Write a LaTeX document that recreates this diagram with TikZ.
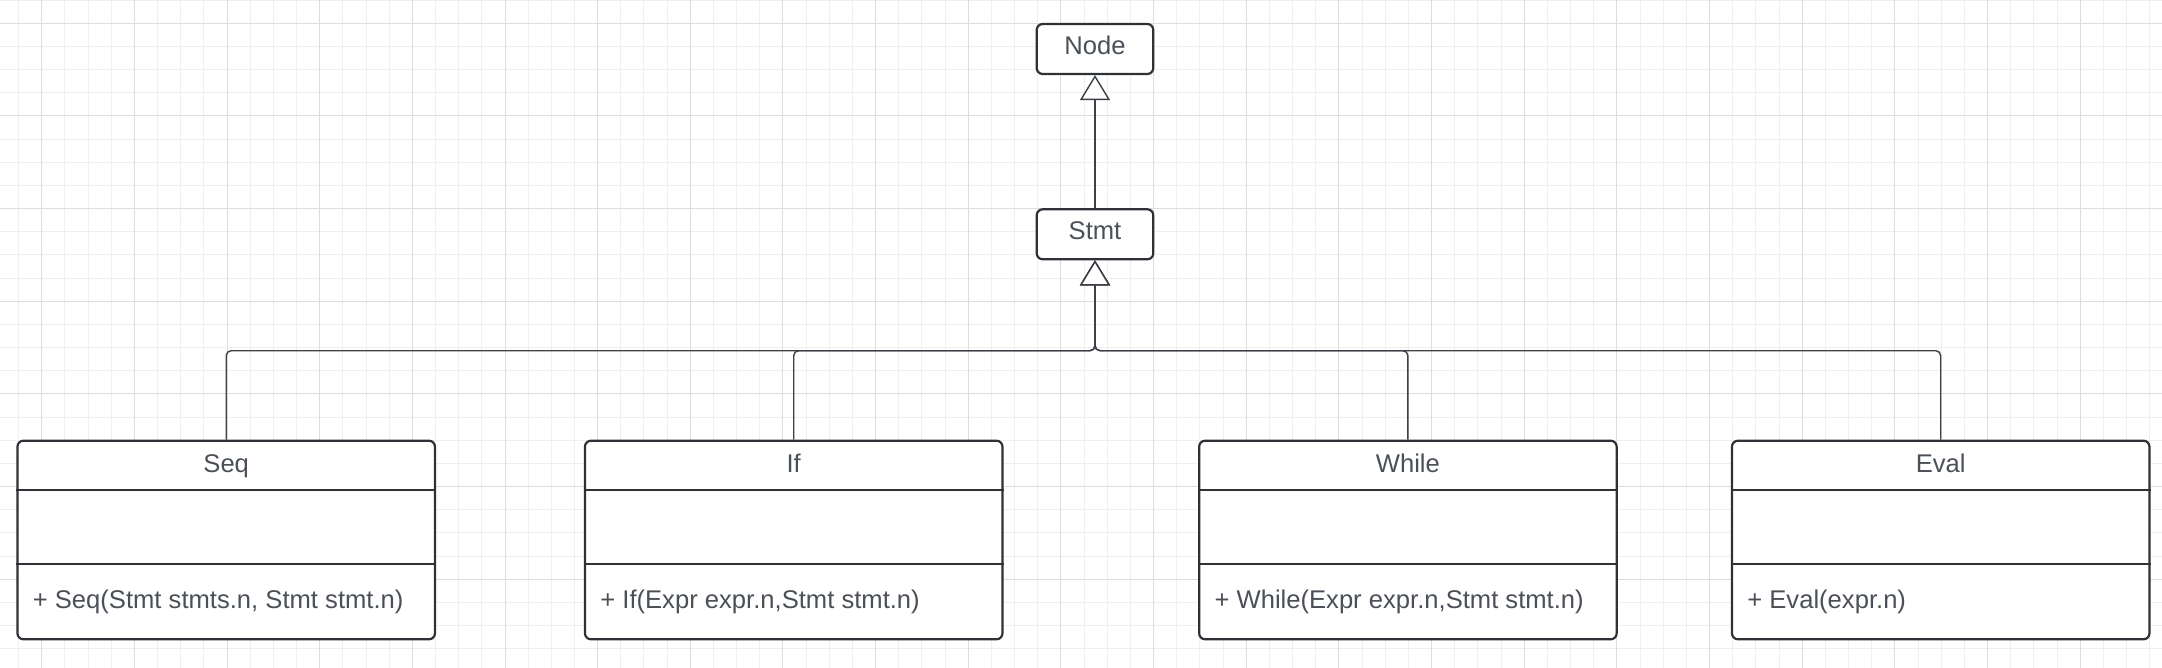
\documentclass[tikz,border=0pt]{standalone}
\usepackage{fontspec}
\setmainfont{Liberation Sans}
\usetikzlibrary{arrows.meta}
\definecolor{gridminor}{HTML}{EFEFEF}
\definecolor{gridmajor}{HTML}{DDDDDD}
\definecolor{boxline}{HTML}{2E3136}
\definecolor{txt}{HTML}{4B5058}
\definecolor{conn}{HTML}{3C4046}
\begin{document}
\begin{tikzpicture}[x=0.5pt,y=-0.5pt,
  box/.style={draw=boxline, line width=1.1pt, rounded corners=3pt, fill=white, inner sep=0pt},
  divider/.style={draw=boxline, line width=1.1pt},
  lbl/.style={text=txt, font=\fontsize{12.8pt}{15pt}\selectfont, inner sep=0pt, anchor=base},
  inh/.style={draw=conn, line width=0.7pt, rounded corners=2.5pt,
    -{Triangle[open,length=12.5pt,width=15pt,fill=white]}}]
\useasboundingbox (0,0) rectangle (2162,668);
\fill[white] (0,0) rectangle (2162,668);
% grid
\foreach \i in {-1,...,91} { \draw[gridminor, line width=0.5pt] ({41.7+23.165*\i},0) -- ++(0,668); }
\foreach \i in {-1,...,28} { \draw[gridminor, line width=0.5pt] (0,{23.3+23.165*\i}) -- ++(2162,0); }
\foreach \i in {0,...,22} { \draw[gridmajor, line width=0.5pt] ({41.7+92.66*\i},0) -- ++(0,668); }
\foreach \i in {0,...,6} { \draw[gridmajor, line width=0.5pt] (0,{23.3+92.66*\i}) -- ++(2162,0); }
% top boxes
\node[box, minimum width=58.3pt, minimum height=25pt] (node) at (1095,49) {};
\node[lbl] (nodet) at (1095,55) {Node};
\node[box, minimum width=58.3pt, minimum height=25pt] (stmt) at (1095,234.3) {};
\node[lbl] (stmtt) at (1095,240) {Stmt};
% class boxes
\foreach \n/\cx/\t/\m in {seq/226.2/Seq/{+ Seq(Stmt stmts.n, Stmt stmt.n)},
                          if/793.7/If/{+ If(Expr expr.n,Stmt stmt.n)},
                          while/1407.9/While/{+ While(Expr expr.n,Stmt stmt.n)},
                          eval/1940.7/Eval/{+ Eval(expr.n)}} {
  \node[box, minimum width=208.75pt, minimum height=99.3pt] (\n) at (\cx,540) {};
  \draw[divider] ([yshift=-25pt]\n.north west) -- ([yshift=-25pt]\n.north east);
  \draw[divider] ([yshift=-62.15pt]\n.north west) -- ([yshift=-62.15pt]\n.north east);
  \node[lbl] (\n-t) at (\cx,472.3) {\t};
  \node[lbl, anchor=base west] (\n-m) at ({\cx-193.75},608.3) {\m};
}
% connectors
\coordinate (j) at (1095,350.7);
\draw[inh] (stmt.north) -- (node.south);
\draw[inh] (seq.north) |- (j) -- (stmt.south);
\draw[inh] (if.north) |- (j) -- (stmt.south);
\draw[inh] (while.north) |- (j) -- (stmt.south);
\draw[inh] (eval.north) |- (j) -- (stmt.south);
\end{tikzpicture}
\end{document}
